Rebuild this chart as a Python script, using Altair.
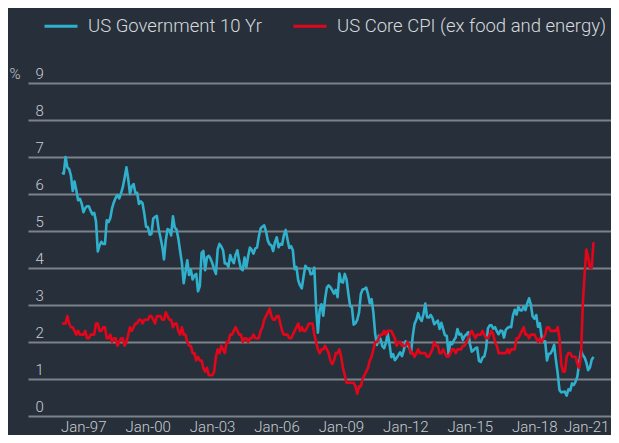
import altair as alt
import pandas as pd

# ---------------- data (monthly, Jan-1997 .. Oct-2021) ----------------
series_names = ["US Government 10 Yr", "US Core CPI (ex food and energy)"]
series_colors = ["#2fb0cc", "#e3061a"]
start_year = 1997
tick_years = [1997, 2000, 2003, 2006, 2009, 2012, 2015, 2018, 2021]
y_ticks = [0, 1, 2, 3, 4, 5, 6, 7, 8, 9]

ust10 = [
    6.58, 6.55, 7.00, 6.72, 6.67, 6.50, 6.08, 6.34, 6.10, 5.83, 5.87, 5.74,   # 1997
    5.51, 5.62, 5.67, 5.67, 5.55, 5.45, 5.49, 5.26, 4.45, 4.61, 4.71, 4.65,   # 1998
    4.65, 5.29, 5.24, 5.35, 5.62, 5.78, 5.90, 5.97, 5.88, 6.02, 6.19, 6.44,   # 1999
    6.72, 6.41, 6.00, 6.21, 6.27, 6.03, 6.03, 5.73, 5.80, 5.75, 5.47, 5.11,   # 2000
    5.11, 4.90, 4.92, 5.34, 5.38, 5.41, 5.05, 4.83, 4.59, 4.23, 4.75, 5.05,   # 2001
    5.03, 4.88, 5.40, 5.09, 5.04, 4.80, 4.46, 4.14, 3.59, 3.89, 4.21, 3.81,   # 2002
    3.96, 3.69, 3.80, 3.84, 3.37, 3.51, 4.41, 4.46, 3.94, 4.29, 4.33, 4.25,   # 2003
    4.13, 3.97, 3.84, 4.50, 4.65, 4.58, 4.48, 4.12, 4.12, 4.03, 4.35, 4.22,   # 2004
    4.13, 4.36, 4.48, 4.20, 3.98, 3.94, 4.28, 4.02, 4.32, 4.55, 4.49, 4.39,   # 2005
    4.53, 4.55, 4.85, 5.07, 5.12, 5.15, 4.99, 4.74, 4.64, 4.61, 4.46, 4.70,   # 2006
    4.83, 4.56, 4.65, 4.63, 4.89, 5.03, 4.78, 4.54, 4.59, 4.48, 3.97, 4.03,   # 2007
    3.67, 3.53, 3.45, 3.77, 4.06, 3.99, 3.99, 3.83, 3.85, 4.01, 2.93, 2.25,   # 2008
    2.87, 3.02, 2.71, 3.16, 3.47, 3.53, 3.48, 3.40, 3.31, 3.41, 3.21, 3.85,   # 2009
    3.63, 3.61, 3.84, 3.69, 3.31, 2.97, 2.94, 2.47, 2.51, 2.60, 2.80, 3.30,   # 2010
    3.42, 3.43, 3.47, 3.29, 3.05, 3.16, 2.80, 2.22, 1.92, 2.17, 2.08, 1.89,   # 2011
    1.83, 1.98, 2.23, 1.95, 1.59, 1.67, 1.51, 1.57, 1.65, 1.72, 1.62, 1.78,   # 2012
    2.02, 1.89, 1.87, 1.70, 2.16, 2.49, 2.60, 2.78, 2.64, 2.57, 2.75, 3.04,   # 2013
    2.67, 2.66, 2.73, 2.65, 2.48, 2.53, 2.58, 2.35, 2.52, 2.35, 2.18, 2.17,   # 2014
    1.68, 2.00, 1.94, 2.05, 2.12, 2.35, 2.20, 2.22, 2.06, 2.16, 2.21, 2.27,   # 2015
    1.94, 1.74, 1.78, 1.83, 1.85, 1.49, 1.46, 1.58, 1.61, 1.84, 2.37, 2.45,   # 2016
    2.45, 2.36, 2.40, 2.29, 2.21, 2.31, 2.30, 2.12, 2.33, 2.38, 2.41, 2.40,   # 2017
    2.72, 2.87, 2.74, 2.95, 2.86, 2.85, 2.96, 2.86, 3.05, 3.18, 3.01, 2.69,   # 2018
    2.63, 2.73, 2.41, 2.51, 2.14, 2.00, 2.02, 1.50, 1.68, 1.69, 1.78, 1.92,   # 2019
    1.51, 1.15, 0.70, 0.64, 0.65, 0.66, 0.55, 0.72, 0.69, 0.88, 0.84, 0.93,   # 2020
    1.07, 1.44, 1.76, 1.65, 1.58, 1.45, 1.24, 1.31, 1.52, 1.60,               # 2021
]

core_cpi = [
    2.5, 2.5, 2.5, 2.7, 2.5, 2.4, 2.4, 2.3, 2.2, 2.3, 2.2, 2.2,   # 1997
    2.2, 2.3, 2.1, 2.1, 2.2, 2.2, 2.2, 2.5, 2.5, 2.3, 2.3, 2.4,   # 1998
    2.4, 2.1, 2.1, 2.2, 2.0, 2.1, 2.1, 1.9, 2.0, 2.1, 2.1, 1.9,   # 1999
    2.0, 2.2, 2.4, 2.3, 2.4, 2.5, 2.5, 2.6, 2.6, 2.5, 2.6, 2.6,   # 2000
    2.6, 2.7, 2.7, 2.6, 2.5, 2.7, 2.7, 2.7, 2.6, 2.6, 2.8, 2.7,   # 2001
    2.6, 2.6, 2.4, 2.5, 2.5, 2.3, 2.2, 2.4, 2.2, 2.2, 2.0, 1.9,   # 2002
    1.9, 1.7, 1.7, 1.5, 1.6, 1.5, 1.5, 1.3, 1.2, 1.3, 1.1, 1.1,   # 2003
    1.1, 1.2, 1.6, 1.8, 1.7, 1.9, 1.8, 1.7, 2.0, 2.0, 2.2, 2.2,   # 2004
    2.3, 2.4, 2.3, 2.2, 2.2, 2.0, 2.1, 2.1, 2.0, 2.1, 2.1, 2.2,   # 2005
    2.1, 2.1, 2.1, 2.3, 2.4, 2.6, 2.7, 2.8, 2.9, 2.7, 2.6, 2.6,   # 2006
    2.7, 2.7, 2.5, 2.3, 2.2, 2.2, 2.2, 2.1, 2.1, 2.2, 2.3, 2.4,   # 2007
    2.5, 2.3, 2.4, 2.3, 2.3, 2.4, 2.5, 2.5, 2.5, 2.2, 2.0, 1.8,   # 2008
    1.7, 1.8, 1.8, 1.9, 1.8, 1.7, 1.5, 1.4, 1.5, 1.7, 1.7, 1.8,   # 2009
    1.6, 1.3, 1.1, 0.9, 0.9, 0.9, 0.9, 0.9, 0.8, 0.6, 0.8, 0.8,   # 2010
    1.0, 1.1, 1.2, 1.3, 1.5, 1.6, 1.8, 2.0, 2.0, 2.1, 2.2, 2.2,   # 2011
    2.3, 2.2, 2.3, 2.3, 2.3, 2.2, 2.1, 1.9, 2.0, 2.0, 1.9, 1.9,   # 2012
    1.9, 2.0, 1.9, 1.7, 1.7, 1.6, 1.7, 1.8, 1.7, 1.7, 1.7, 1.7,   # 2013
    1.6, 1.6, 1.7, 1.8, 2.0, 1.9, 1.9, 1.7, 1.7, 1.8, 1.7, 1.6,   # 2014
    1.6, 1.7, 1.8, 1.8, 1.7, 1.8, 1.8, 1.8, 1.9, 1.9, 2.0, 2.1,   # 2015
    2.2, 2.3, 2.2, 2.1, 2.2, 2.2, 2.2, 2.3, 2.2, 2.1, 2.1, 2.2,   # 2016
    2.3, 2.2, 2.0, 1.9, 1.7, 1.7, 1.7, 1.7, 1.7, 1.8, 1.7, 1.8,   # 2017
    1.8, 1.8, 2.1, 2.1, 2.2, 2.3, 2.4, 2.2, 2.2, 2.1, 2.2, 2.2,   # 2018
    2.2, 2.1, 2.0, 2.1, 2.0, 2.1, 2.2, 2.4, 2.4, 2.3, 2.3, 2.3,   # 2019
    2.3, 2.4, 2.1, 1.4, 1.2, 1.2, 1.6, 1.7, 1.7, 1.6, 1.6, 1.6,   # 2020
    1.4, 1.3, 1.6, 3.0, 3.8, 4.5, 4.3, 4.0, 4.0, 4.7,             # 2021
]

# ---------------- table ----------------
rows = []
for name, vals in zip(series_names, [ust10, core_cpi]):
    for i, v in enumerate(vals):
        rows.append({"series": name, "t": start_year + i / 12.0, "value": v})
df = pd.DataFrame(rows)

BG = "#27303a"
TXT = "#c9cdd2"
GRID = "#7b8289"
FONT = "Roboto"

color_scale = alt.Scale(domain=series_names, range=series_colors)

x_enc = alt.X(
    "t:Q",
    scale=alt.Scale(domain=[1995.417, 2022.565], nice=False, zero=False),
    axis=alt.Axis(
        values=tick_years,
        labelExpr="'Jan-' + substring(toString(datum.value), 2, 4)",
        labelAlign="left",
        labelBaseline="alphabetic",
        labelPadding=15.5,
        labelOffset={"expr": "datum.value == 2021 ? -14 : -1.5"},
        labelFlush=False,
        labelOverlap=False,
        labelBound=False,
        grid=False,
        ticks=False,
        tickSize=0,
        domain=False,
        title=None,
    ),
)

y_enc = alt.Y(
    "value:Q",
    scale=alt.Scale(domain=[0, 9], nice=False, zero=True),
    axis=alt.Axis(
        values=y_ticks,
        format="d",
        grid=True,
        gridColor=GRID,
        gridWidth=2,
        ticks=False,
        tickSize=0,
        domain=False,
        labelAlign="left",
        labelBaseline="alphabetic",
        labelPadding=-7,
        labelOffset=-5,
        title="%",
        titleAngle=0,
        titleAlign="left",
        titleBaseline="alphabetic",
        titleX=-19,
        titleY=-5,
        titleFont=FONT,
        titleFontSize=15,
        titleFontWeight=300,
        titleColor=TXT,
    ),
)

legend = alt.Legend(
    orient="none",
    legendX=15,
    legendY=-75,
    direction="horizontal",
    title=None,
    symbolType="stroke",
    symbolSize=1089,
    symbolStrokeWidth=3,
    labelFont=FONT,
    labelFontSize=18.5,
    labelFontWeight=300,
    labelColor="#d6d9dd",
    labelOffset=9,
    columnPadding=25,
    labelLimit=400,
)

base = alt.Chart(df)
blue = base.transform_filter(alt.datum.series == series_names[0]).mark_line(
    strokeWidth=2.6, strokeJoin="round"
).encode(x=x_enc, y=y_enc, color=alt.Color("series:N", scale=color_scale, legend=legend))
red = base.transform_filter(alt.datum.series == series_names[1]).mark_line(
    strokeWidth=2.6, strokeJoin="round"
).encode(x=x_enc, y=y_enc, color=alt.Color("series:N", scale=color_scale, legend=legend))

chart = (
    alt.layer(blue, red)
    .properties(
        width=583,
        height=333,
        padding={"left": 20, "top": 75, "right": 0, "bottom": 19},
        autosize=alt.AutoSizeParams(type="none"),
    )
    .configure(background=BG)
    .configure_view(stroke=None)
    .configure_axis(labelFont=FONT, labelFontSize=15, labelFontWeight=300, labelColor=TXT)
)

chart.save("out.html", embed_options={"renderer": "svg", "actions": False})
